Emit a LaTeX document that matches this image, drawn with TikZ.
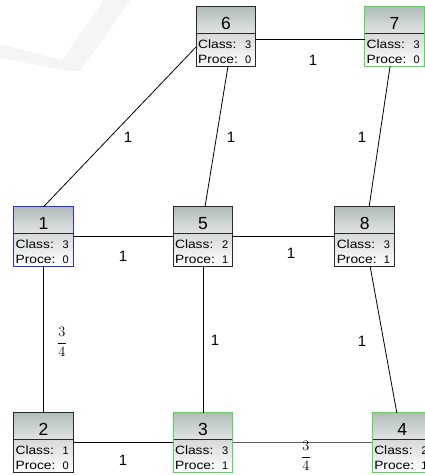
\documentclass[tikz,border=0pt]{standalone}
\usepackage{fontspec}
\setmainfont{Liberation Sans}
\newfontfamily\wideSans[FakeStretch=1.15]{Liberation Sans}
\usetikzlibrary{calc}

\definecolor{hdtop}{RGB}{178,188,184}
\definecolor{hdbot}{RGB}{226,230,228}
\definecolor{lotop}{RGB}{214,218,216}
\definecolor{plainborder}{RGB}{40,40,40}
\definecolor{blueborder}{RGB}{40,40,255}
\definecolor{greenborder}{RGB}{70,225,70}
\definecolor{markgray}{RGB}{245,245,245}
\definecolor{edgegray}{RGB}{95,95,95}

\tikzset{
  cbox/.style={rectangle, draw=none, minimum width=59.5pt, minimum height=59pt, inner sep=0pt},
  numtext/.style={inner sep=0pt, font=\fontsize{17.5}{17.5}\selectfont},
  lbltext/.style={inner sep=0pt, font=\wideSans\fontsize{12}{12}\selectfont},
  valtext/.style={inner sep=0pt, font=\fontsize{11}{11}\selectfont},
  divline/.style={draw=plainborder, line width=0.8pt},
  edge/.style={draw=black, line width=0.8pt},
  wlabel/.style={inner sep=0pt, font=\fontsize{15}{15}\selectfont},
  flabel/.style={inner sep=0pt, font=\fontsize{14}{14}\selectfont},
}

% class box: name, x, y, number, class value, proc value, border colour
\newcommand\classnode[7]{%
  \node[cbox] (#1) at (#2,#3) {};
  \shade[top color=hdtop, bottom color=hdbot]
    (#1.north west) rectangle ($(#1.north east)+(0,27)$);
  \shade[top color=lotop, bottom color=white]
    ($(#1.north west)+(0,27)$) rectangle (#1.south east);
  \draw[divline] ($(#1.north west)+(0,27)$) -- ($(#1.north east)+(0,27)$);
  \draw[draw=#7, line width=1pt] (#1.north west) rectangle (#1.south east);
  \node[numtext, anchor=base] (#1num) at ($(#1.north)+(0,23)$) {#4};
  \node[lbltext, anchor=base west] (#1cl) at ($(#1.north west)+(1.8,41.5)$) {Class:};
  \node[lbltext, anchor=base west] (#1pr) at ($(#1.north west)+(1.8,56.5)$) {Proce:};
  \node[valtext, anchor=base east] (#1cv) at ($(#1.north east)+(-4.5,41.5)$) {#5};
  \node[valtext, anchor=base east] (#1pv) at ($(#1.north east)+(-4.5,57)$) {#6};
}

\begin{document}
\begin{tikzpicture}[x=1pt, y=-1pt]
  \useasboundingbox (0,0) rectangle (425,475);
  \clip (0,0) rectangle (425,475);

  % faint check mark in the corner
  \fill[markgray] (0,44) -- (62,60) -- (104,0) -- (131,0) -- (80,71) -- (68,71) -- (0,58) -- cycle;

  % class boxes
  \classnode{n6}{226}{36.5}{6}{3}{0}{plainborder}
  \classnode{n7}{394.5}{36.5}{7}{3}{0}{greenborder}
  \classnode{n1}{43.5}{236.5}{1}{3}{0}{blueborder}
  \classnode{n5}{203}{236.5}{5}{2}{1}{plainborder}
  \classnode{n8}{364.7}{236.5}{8}{3}{1}{plainborder}
  \classnode{n2}{43.5}{442.5}{2}{1}{0}{plainborder}
  \classnode{n3}{203}{442.5}{3}{3}{1}{greenborder}
  \classnode{n4}{402.2}{442.5}{4}{2}{1}{greenborder}

  % connections
  \draw[edge] (n1.north) -- ($(n6.west)+(0,10.5)$);
  \draw[edge] ($(n6.south)+(2,0)$) -- ($(n5.north)+(2,0)$);
  \draw[edge] ($(n6.east)+(0,2.5)$) -- ($(n7.west)+(0,2.5)$);
  \draw[edge] (n7) -- (n8);
  \draw[edge] (n1) -- (n5);
  \draw[edge] (n5) -- (n8);
  \draw[edge] (n1) -- (n2);
  \draw[edge] (n5) -- (n3);
  \draw[edge] (n8) -- (n4);
  \draw[edge] (n2) -- (n3);
  \draw[edge, draw=edgegray] (n3) -- (n4);

  % weights
  \node[wlabel] (w16) at (128,137) {1};
  \node[wlabel] (w65) at (231,137) {1};
  \node[wlabel] (w67) at (313,60) {1};
  \node[wlabel] (w78) at (362,137) {1};
  \node[wlabel] (w15) at (123,256) {1};
  \node[wlabel] (w58) at (291,253) {1};
  \node[flabel] (w12) at (62,342) {$\displaystyle\frac{3}{4}$};
  \node[wlabel] (w53) at (215,340) {1};
  \node[wlabel] (w84) at (362,341) {1};
  \node[wlabel] (w23) at (123,460) {1};
  \node[flabel] (w34) at (306,456) {$\displaystyle\frac{3}{4}$};
\end{tikzpicture}
\end{document}
